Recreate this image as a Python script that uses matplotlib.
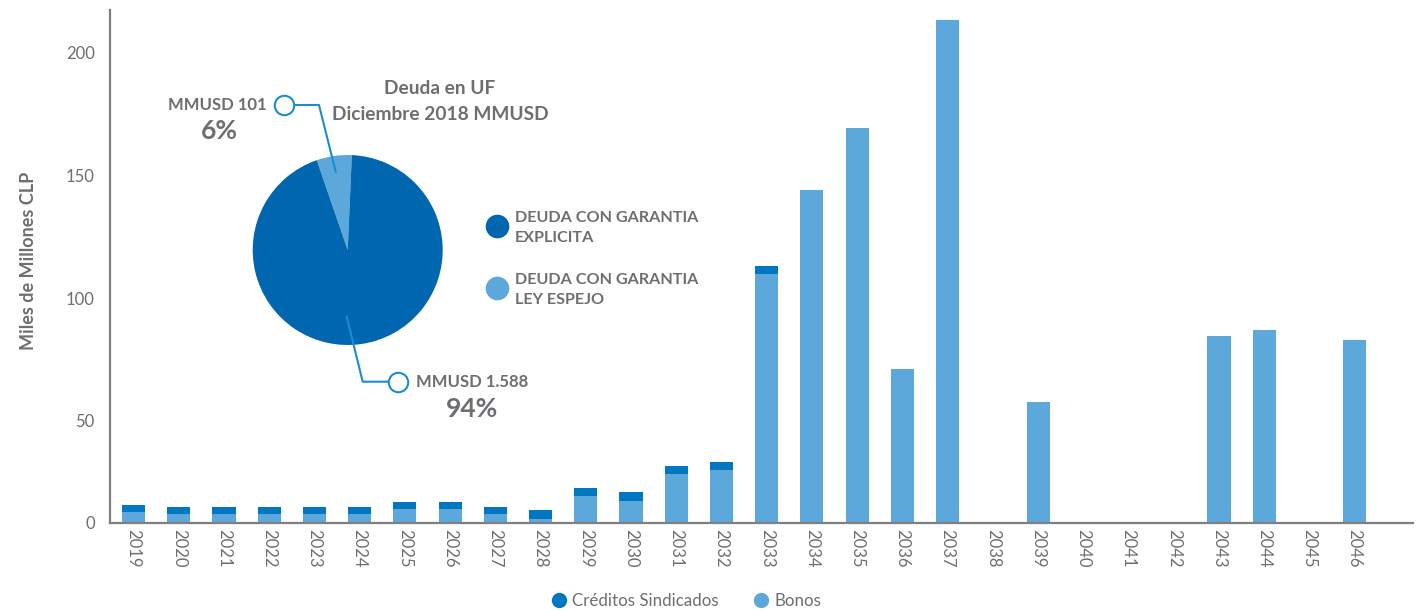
import matplotlib
matplotlib.use("Agg")
from matplotlib import pyplot as plt
from matplotlib.lines import Line2D

plt.rcParams["font.family"] = ["Lato", "DejaVu Sans"]

years = [str(y) for y in range(2019, 2047)]
bonos = [12.9, 12.1, 12.1, 12.1, 12.1, 12.1, 14.1, 14.1, 12.1, 10.1,
         19.4, 17.4, 28.4, 30.0, 109.9, 144.2, 169.5, 71.2, 213.5, 0,
         57.8, 0, 0, 0, 84.7, 87.2, 0, 83.0]
creditos = [2.9, 2.9, 2.9, 2.9, 2.9, 2.9, 2.9, 2.9, 2.9, 3.6,
            3.3, 3.7, 3.3, 3.3, 3.3, 0, 0, 0, 0, 0,
            0, 0, 0, 0, 0, 0, 0, 0]
ytick_vals = [8.6, 50, 100, 150, 200]
ytick_labels = ["0", "50", "100", "150", "200"]

pie_labels = ["DEUDA CON GARANTIA\nLEY ESPEJO", "DEUDA CON GARANTIA\nEXPLICITA"]
pie_values = [101, 1588]

DARK = "#0077C0"
LIGHT = "#5DA8DA"
PIE_DARK = "#0066B0"
GRAY = "#6D6E71"
LINE = "#1B8CD0"

W, H = 1422, 611
fig = plt.figure(figsize=(W / 100, H / 100), dpi=100)
ax = fig.add_axes([110 / W, 1 - 522.5 / H, 1303 / W, 512.5 / H])

x = list(range(len(years)))
ax.bar(x, bonos, width=0.51, color=LIGHT, zorder=2)
ax.bar(x, creditos, bottom=bonos, width=0.51, color=DARK, zorder=2)

ax.set_xlim(-0.52, 28.29)
ax.set_ylim(8.6, 217.5)
ax.set_xticks(x)
ax.set_xticklabels(years, rotation=-90, fontsize=12, color=GRAY)
ax.set_yticks(ytick_vals)
ax.set_yticklabels(ytick_labels, fontsize=12, color=GRAY)
ax.tick_params(axis="x", length=0, pad=5)
ax.tick_params(axis="y", length=0, pad=11)
for s in ["top", "right"]:
    ax.spines[s].set_visible(False)
for s in ["left", "bottom"]:
    ax.spines[s].set_color("#7F7F7F")
    ax.spines[s].set_linewidth(1.6)
ax.set_ylabel("Miles de Millones CLP", fontsize=13, fontweight="bold", color=GRAY)
ax.yaxis.set_label_coords(-0.056, 0.51)

# overlay in pixel coordinates for the pie and its notes
ov = fig.add_axes([0, 0, 1, 1])
ov.pie(pie_values, colors=[LIGHT, PIE_DARK], startangle=87.5,
       center=(347.7, H - 250), radius=95, frame=True,
       wedgeprops=dict(linewidth=0))
ov.set_xlim(0, W)
ov.set_ylim(0, H)
ov.set_aspect("auto")
ov.axis("off")

# leader lines
ov.plot([291, 319, 335.7], [H - 105, H - 105, H - 171.7], color=LINE, lw=1.5)
ov.plot([346.7, 362.7, 390], [H - 316.7, H - 381.7, H - 381.7], color=LINE, lw=1.5)
ov.plot([283.5, 398], [H - 105, H - 382], "o", ms=14, mfc="white", mec=LINE, mew=1.5)

ov.text(267, H - 105, "MMUSD 101", ha="right", va="center", fontsize=12,
        fontweight="bold", color=GRAY)
ov.text(219, H - 131, "6%", ha="center", va="center", fontsize=19,
        fontweight="bold", color=GRAY)
ov.text(416, H - 382, "MMUSD 1.588", ha="left", va="center", fontsize=12,
        fontweight="bold", color=GRAY)
ov.text(472, H - 409, "94%", ha="center", va="center", fontsize=19,
        fontweight="bold", color=GRAY)
ov.text(440, H - 89, "Deuda en UF", ha="center", va="center", fontsize=13.8,
        fontweight="bold", color=GRAY)
ov.text(440, H - 115, "Diciembre 2018 MMUSD", ha="center", va="center",
        fontsize=13.8, fontweight="bold", color=GRAY)

# pie legend
ov.plot([497], [H - 226], "o", ms=17, color=PIE_DARK, mew=0)
ov.plot([497], [H - 288], "o", ms=17, color=LIGHT, mew=0)
ov.text(515, H - 228, pie_labels[1], ha="left", va="center", fontsize=11.6,
        fontweight="bold", color=GRAY, linespacing=1.5)
ov.text(515, H - 290, pie_labels[0], ha="left", va="center", fontsize=11.6,
        fontweight="bold", color=GRAY, linespacing=1.5)

handles = [Line2D([], [], marker="o", ls="", ms=10, color=DARK),
           Line2D([], [], marker="o", ls="", ms=10, color=LIGHT)]
fig.legend(handles, ["Créditos Sindicados", "Bonos"], loc="center",
           bbox_to_anchor=(686 / W, 1 - 601 / H), ncol=2, frameon=False,
           fontsize=12.2, labelcolor=GRAY, handletextpad=0.3,
           columnspacing=2.0, handlelength=1.0)

fig.savefig("out.png", dpi=100)
